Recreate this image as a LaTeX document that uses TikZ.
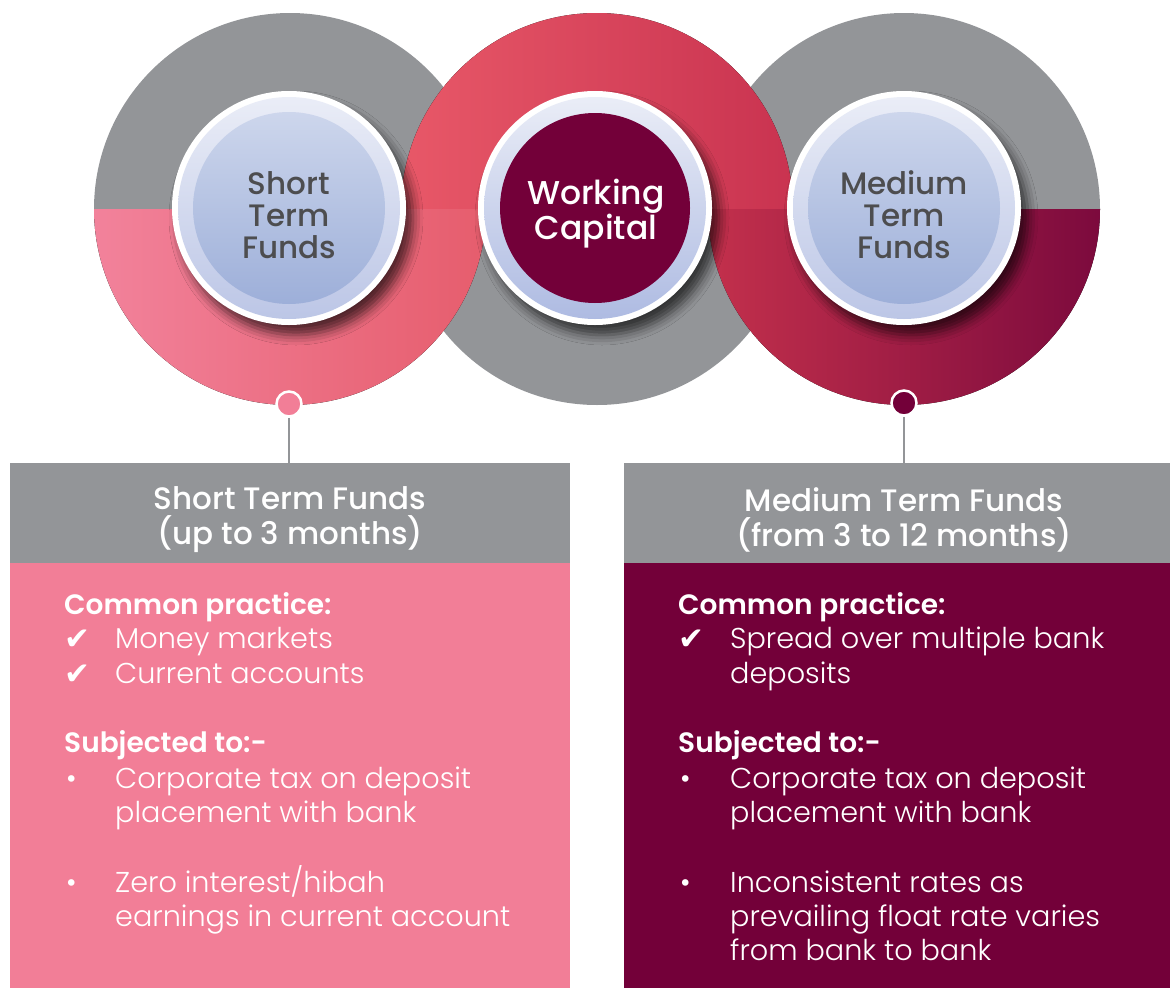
\documentclass[tikz,border=0pt]{standalone}
\usepackage{fontspec}
\setmainfont{Poppins}[UprightFont={* Light}, BoldFont={* Medium}]
\newfontfamily\semifont{Poppins SemiBold}
\newfontfamily\symfont{DejaVu Sans}
\usepackage{xcolor}
\usetikzlibrary{positioning,calc,shadows.blur}

\definecolor{greyc}{HTML}{939598}
\definecolor{pinkbox}{HTML}{F27E97}
\definecolor{maroon}{HTML}{730039}
\definecolor{pinkL}{HTML}{F2829B}
\definecolor{pinkR}{HTML}{E65D6D}
\definecolor{redL}{HTML}{E85868}
\definecolor{redM}{HTML}{E3424F}
\definecolor{redR}{HTML}{C93350}
\definecolor{crimL}{HTML}{C3304C}
\definecolor{crimR}{HTML}{7C0A3D}
\definecolor{textgrey}{HTML}{4D4D4F}
\definecolor{ringtop}{HTML}{EAEDF7}
\definecolor{ringbot}{HTML}{BCC6E6}
\definecolor{ringbotdark}{HTML}{AEBBE2}
\definecolor{disktop}{HTML}{CDD6EC}
\definecolor{diskbot}{HTML}{9DAFD9}

\begin{document}
\begin{tikzpicture}[x=1pt,y=1pt,
    ring/.style={circle, fill=white, minimum size=234pt, inner sep=0pt,
      blur shadow={shadow xshift=7pt, shadow yshift=-10pt, shadow blur radius=10pt, shadow opacity=65}},
    band/.style={circle, minimum size=222pt, inner sep=0pt, top color=ringtop, bottom color=ringbot},
    diskbase/.style={circle, minimum size=192pt, inner sep=0pt, align=center},
    disk/.style={diskbase, top color=disktop, bottom color=diskbot},
    disktext/.style={text=textgrey, align=center, font=\fontsize{31}{32}\selectfont\bfseries},
    dot/.style={circle, draw=white, line width=2.5pt, minimum size=25pt, inner sep=0pt},
    link/.style={draw=greyc, line width=2pt},
    headbox/.style={fill=greyc, minimum height=100pt, inner sep=0pt},
    headtext/.style={text=white, align=center, font=\fontsize{31}{35}\selectfont\bfseries},
    heading/.style={anchor=base west, text=white, inner sep=0pt, font=\semifont\fontsize{28}{28}\selectfont},
    item/.style={anchor=base west, text=white, inner sep=0pt, font=\fontsize{28.7}{28}\selectfont},
    checksym/.style={anchor=base west, text=white, inner sep=0pt, font=\symfont\fontsize{31}{31}\selectfont}
  ]
    \useasboundingbox (0,0) rectangle (1170,-988);

    % Big circles (interlocking halves)
    \def\R{196}
    \fill[greyc] (290,-209) ++(-\R,0) arc[start angle=180, end angle=0, radius=\R] -- cycle;
    \fill[greyc] (904,-209) ++(-\R,0) arc[start angle=180, end angle=0, radius=\R] -- cycle;
    \fill[greyc] (597,-209) ++(\R,0) arc[start angle=0, end angle=-180, radius=\R] -- cycle;
    \fill[left color=redL, middle color=redM, right color=redR]
      (597,-209) ++(-\R,0) arc[start angle=180, end angle=0, radius=\R] -- cycle;
    \fill[left color=pinkL, right color=pinkR]
      (290,-209) ++(\R,0) arc[start angle=0, end angle=-180, radius=\R] -- cycle;
    \fill[left color=crimL, right color=crimR]
      (904,-209) ++(\R,0) arc[start angle=0, end angle=-180, radius=\R] -- cycle;

    % Inner circles
    \node[ring] (shortring) at (289,-208) {};
    \node[band] at (shortring) {};
    \node[disk] (short) at (shortring) {};
    \node[disktext] (shorttxt) at (289,-215) {Short\\Term\\Funds};

    \node[ring] (workring) at (595,-208) {};
    \node[band, bottom color=ringbotdark] at (workring) {};
    \node[diskbase, fill=maroon, minimum size=190pt] (work) at (workring) {};
    \node[disktext, text=white, font=\fontsize{33}{35}\selectfont\bfseries]
      (worktxt) at (596,-214) {Working\\Capital};

    \node[ring] (medring) at (904,-208) {};
    \node[band] at (medring) {};
    \node[disk] (medium) at (medring) {};
    \node[disktext] (medtxt) at (904,-215) {Medium\\Term\\Funds};

    % Dots and links
    \node[dot, fill=pinkbox] (shortdot) at (289,-404) {};
    \node[dot, fill=maroon] (meddot) at (904,-403) {};

    % Boxes
    \node[headbox, minimum width=560pt] (shorthead) at (290,-513) {};
    \fill[pinkbox] (10,-563) rectangle (570,-988);
    \node[headbox, minimum width=546pt] (medhead) at (897,-513) {};
    \fill[maroon] (624,-563) rectangle (1170,-988);

    \draw[link] (shortdot.south) -- (shortdot |- shorthead.north);
    \draw[link] (meddot.south) -- (meddot |- medhead.north);

    \node[headtext] (shorttitle) at (290,-520) {Short Term Funds\\(up to 3 months)};
    \node[headtext] (medtitle) at (904,-520) {Medium Term Funds\\(from 3 to 12 months)};

    % Short term text
    \node[heading] at (64,-614) {Common practice:};
    \node[checksym] at (64,-649) {✔};
    \node[item] at (115,-648) {Money markets};
    \node[checksym] at (64,-684) {✔};
    \node[item] at (115,-683) {Current accounts};
    \node[heading] at (64,-752) {Subjected to:-};
    \node[item] at (66,-788) {•};
    \node[item] at (115,-788) {Corporate tax on deposit};
    \node[item] at (115,-822) {placement with bank};
    \node[item] at (66,-892) {•};
    \node[item] at (115,-892) {Zero interest/hibah};
    \node[item] at (115,-926) {earnings in current account};

    % Medium term text
    \node[heading] at (678,-614) {Common practice:};
    \node[checksym] at (678,-649) {✔};
    \node[item] at (730,-648) {Spread over multiple bank};
    \node[item] at (730,-683) {deposits};
    \node[heading] at (678,-752) {Subjected to:-};
    \node[item] at (680,-788) {•};
    \node[item] at (730,-788) {Corporate tax on deposit};
    \node[item] at (730,-822) {placement with bank};
    \node[item] at (680,-892) {•};
    \node[item] at (730,-892) {Inconsistent rates as};
    \node[item] at (730,-926) {prevailing float rate varies};
    \node[item] at (730,-960) {from bank to bank};
\end{tikzpicture}
\end{document}
